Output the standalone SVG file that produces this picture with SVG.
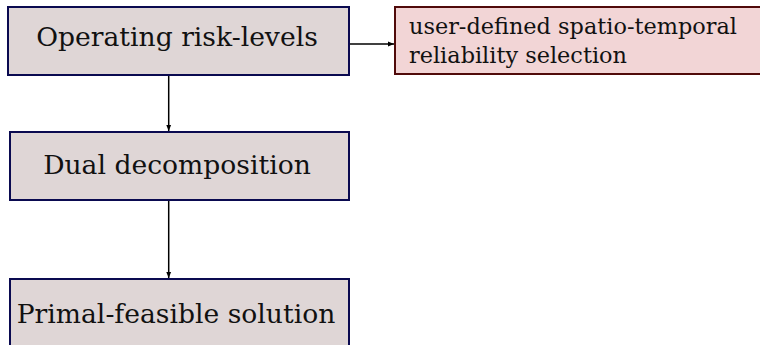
<svg xmlns="http://www.w3.org/2000/svg" width="760" height="345" viewBox="0 0 760 345">
<style>
.box{fill:#dfd6d6;stroke:#0a0a50;stroke-width:2}
.pbox{fill:#f2d5d6;stroke:#500a0a;stroke-width:2}
.t{font-family:"DejaVu Serif",serif;font-size:26.6px;fill:#111;text-anchor:middle}
.pt{font-family:"DejaVu Serif",serif;font-size:22.4px;fill:#111}
.edge{stroke:#000;stroke-width:1.5;fill:none}
</style>
<defs>
<marker id="ah" viewBox="0 0 10 10" refX="10" refY="5" markerWidth="6" markerHeight="6" markerUnits="userSpaceOnUse" orient="auto">
<path d="M0,1 L10,5 L0,9 Z" fill="#000"/>
</marker>
</defs>
<g id="connectors">
<line class="edge" x1="168.7" y1="75" x2="168.7" y2="131" marker-end="url(#ah)"/>
<line class="edge" x1="168.7" y1="200" x2="168.7" y2="278" marker-end="url(#ah)"/>
<line class="edge" x1="349" y1="44" x2="394" y2="44" marker-end="url(#ah)"/>
</g>
<g id="n1">
<rect class="box" x="8" y="7" width="341" height="68"/>
<text class="t" x="177" y="46">Operating risk-levels</text>
</g>
<g id="n2">
<rect class="box" x="10" y="132" width="339" height="68"/>
<text class="t" x="177" y="174">Dual decomposition</text>
</g>
<g id="n3">
<rect class="box" x="10" y="279" width="339" height="80"/>
<text class="t" x="176" y="323">Primal-feasible solution</text>
</g>
<g id="n4">
<rect class="pbox" x="395" y="7" width="380" height="67"/>
<text class="pt" x="409" y="34">user-defined spatio-temporal</text>
<text class="pt" x="409" y="63">reliability selection</text>
</g>
</svg>
